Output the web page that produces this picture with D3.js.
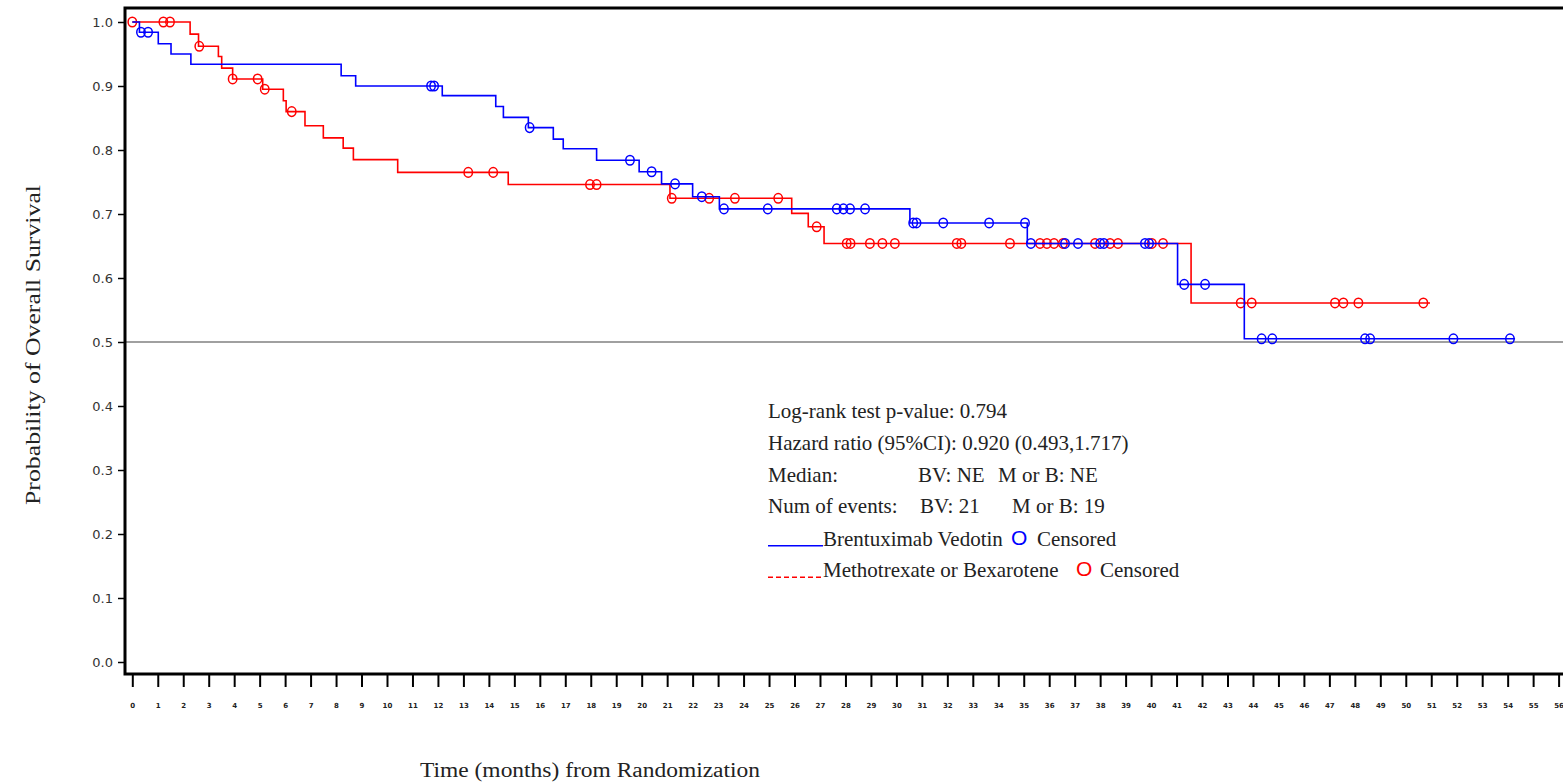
<!DOCTYPE html>
<html>
<head>
<meta charset="utf-8">
<script src="https://cdn.jsdelivr.net/npm/d3@7"></script>
<style>
  html, body { margin: 0; padding: 0; background: #fff; }
  svg { display: block; }
</style>
</head>
<body>
<svg id="chart" width="1563" height="783"></svg>
<script>
// Kaplan-Meier overall survival: Brentuximab Vedotin vs Methotrexate or Bexarotene

// Brentuximab Vedotin (BV): event times (months) and survival after each event
const bvEventTimes = [0.28, 1.02, 1.52, 2.3, 8.2, 8.77, 12.17, 14.27, 14.57, 15.55, 16.53, 16.92, 18.23, 19.9, 20.78, 22.0, 23.05, 30.53, 35.14, 41.04, 43.66];
const bvSurvival   = [0.984, 0.966, 0.950, 0.934, 0.916, 0.900, 0.885, 0.868, 0.851, 0.835, 0.817, 0.802, 0.784, 0.766, 0.747, 0.727, 0.708, 0.686, 0.654, 0.590, 0.505];
const bvLastFollowUp = 54.29;
const bvCensored = [0.34, 0.62, 11.73, 11.85, 15.6, 19.54, 20.39, 21.31, 22.36, 23.23, 24.95, 27.66, 27.92, 28.18, 28.77, 30.66, 30.79, 31.84, 33.64, 35.05, 35.28, 36.62, 37.13, 38.0, 38.15, 39.76, 39.92, 41.3, 42.12, 44.34, 44.76, 48.4, 48.6, 51.87, 54.09];

// Methotrexate or Bexarotene (M or B)
const mbEventTimes = [2.27, 2.6, 3.38, 3.51, 3.94, 5.12, 5.93, 6.04, 6.78, 7.5, 8.28, 8.68, 10.42, 14.76, 21.11, 25.89, 26.54, 27.16, 41.57];
const mbSurvival   = [0.981, 0.962, 0.946, 0.928, 0.911, 0.895, 0.877, 0.860, 0.838, 0.819, 0.803, 0.785, 0.765, 0.746, 0.7245, 0.701, 0.680, 0.654, 0.561];
const mbLastFollowUp = 50.95;
const mbCensored = [0, 1.22, 1.48, 2.63, 3.94, 4.92, 5.2, 6.26, 13.19, 14.17, 17.97, 18.23, 21.18, 22.65, 23.66, 25.36, 26.87, 28.05, 28.2, 28.96, 29.45, 29.94, 32.37, 32.55, 34.46, 35.64, 35.91, 36.19, 36.54, 37.8, 38.39, 38.7, 40.03, 40.47, 43.52, 43.95, 47.22, 47.55, 48.14, 50.69];

// Axis ticks
const xTickValues = d3.range(0, 57);
const yTickValues = [0, 0.1, 0.2, 0.3, 0.4, 0.5, 0.6, 0.7, 0.8, 0.9, 1.0];
const referenceSurvival = 0.5;

// Annotation text
const statLines = [
  ["Log-rank test p-value: 0.794"],
  ["Hazard ratio (95%CI): 0.920 (0.493,1.717)"],
  ["Median:", "BV: NE", "M or B: NE"],
  ["Num of events:", "BV: 21", "M or B: 19"]
];
const groupNames = ["Brentuximab Vedotin", "Methotrexate or Bexarotene"];
const groupColors = ["#0000ff", "#ff0000"];

const svg = d3.select("#chart");
const serif = "'Liberation Serif', 'Times New Roman', serif";

const x = d3.scaleLinear().domain([0, 56]).range([132.3, 1558.6]);
const y = d3.scaleLinear().domain([0, 1]).range([662, 22]);

const frame = { left: 125, top: 8, right: 1566, bottom: 674 };

// Reference line at median survival
svg.append("line")
  .attr("x1", frame.left).attr("x2", frame.right)
  .attr("y1", y(referenceSurvival)).attr("y2", y(referenceSurvival))
  .attr("stroke", "#a0a0a0").attr("stroke-width", 2);

// Step-function helpers
function stepPoints(times, surv, last) {
  const pts = [[0, 1]];
  times.forEach((t, i) => pts.push([t, surv[i]]));
  pts.push([last, surv[surv.length - 1]]);
  return pts;
}
function survivalAt(times, surv, t) {
  let s = 1;
  times.forEach((ti, i) => { if (ti <= t) s = surv[i]; });
  return s;
}

const stepLine = d3.line()
  .x(d => x(d[0]))
  .y(d => y(d[1]))
  .curve(d3.curveStepAfter);

const groups = [
  { times: bvEventTimes, surv: bvSurvival, last: bvLastFollowUp, cens: bvCensored, color: groupColors[0] },
  { times: mbEventTimes, surv: mbSurvival, last: mbLastFollowUp, cens: mbCensored, color: groupColors[1] }
];

// Draw M or B first so BV sits on top where they overlap
[groups[1], groups[0]].forEach(g => {
  svg.append("path")
    .datum(stepPoints(g.times, g.surv, g.last))
    .attr("d", stepLine)
    .attr("fill", "none")
    .attr("stroke", g.color)
    .attr("stroke-width", 1.6);

  svg.append("g")
    .selectAll("ellipse")
    .data(g.cens)
    .join("ellipse")
    .attr("cx", d => x(d))
    .attr("cy", d => y(survivalAt(g.times, g.surv, d)))
    .attr("rx", 4.2)
    .attr("ry", 4.8)
    .attr("fill", "none")
    .attr("stroke", g.color)
    .attr("stroke-width", 1.5);
});

// Frame
svg.append("rect")
  .attr("x", frame.left).attr("y", frame.top)
  .attr("width", frame.right - frame.left)
  .attr("height", frame.bottom - frame.top)
  .attr("fill", "none")
  .attr("stroke", "#000")
  .attr("stroke-width", 3);

// Y axis
const yAxis = svg.append("g")
  .attr("transform", `translate(${frame.left},0)`)
  .call(d3.axisLeft(y).tickValues(yTickValues).tickFormat(d3.format(".1f")).tickSize(7).tickPadding(5));
yAxis.select(".domain").remove();
yAxis.selectAll(".tick line").attr("stroke", "#000").attr("stroke-width", 1.5);
yAxis.selectAll(".tick text")
  .attr("font-family", "'DejaVu Sans', Verdana, sans-serif")
  .attr("font-size", 13)
  .attr("fill", "#333");

// X axis
const xAxis = svg.append("g")
  .attr("transform", `translate(0,${frame.bottom})`)
  .call(d3.axisBottom(x).tickValues(xTickValues).tickFormat(d3.format("d")).tickSize(13).tickPadding(16));
xAxis.select(".domain").remove();
xAxis.selectAll(".tick line").attr("stroke", "#000").attr("stroke-width", 2);
xAxis.selectAll(".tick text")
  .attr("font-family", "'DejaVu Sans', Verdana, sans-serif")
  .attr("font-size", 7)
  .attr("font-weight", "bold")
  .attr("fill", "#222");

// Axis titles
svg.append("text")
  .attr("transform", "translate(40,345) rotate(-90)")
  .attr("text-anchor", "middle")
  .attr("font-family", serif)
  .attr("font-size", 21)
  .attr("fill", "#222")
  .attr("textLength", 320)
  .attr("lengthAdjust", "spacingAndGlyphs")
  .text("Probability of Overall Survival");

svg.append("text")
  .attr("x", 590).attr("y", 777)
  .attr("text-anchor", "middle")
  .attr("font-family", serif)
  .attr("font-size", 20)
  .attr("fill", "#222")
  .attr("textLength", 340)
  .attr("lengthAdjust", "spacingAndGlyphs")
  .text("Time (months) from Randomization");

// Statistics block
const statX = [768, 918, 998];
const statXEvents = [768, 920, 1012];
const baseY = 418, lineGap = 31.8;
statLines.forEach((parts, i) => {
  const cols = i === 3 ? statXEvents : statX;
  parts.forEach((p, j) => {
    svg.append("text")
      .attr("x", cols[j]).attr("y", baseY + i * lineGap)
      .attr("font-family", serif)
      .attr("font-size", 21)
      .attr("fill", "#222")
      .text(p);
  });
});

// Legend entries
const legendY = [545.7, 577.3];
const censoredX = [[1011, 1037], [1076, 1100]];
groupNames.forEach((name, i) => {
  svg.append("line")
    .attr("x1", 768).attr("x2", 823)
    .attr("y1", legendY[i]).attr("y2", legendY[i])
    .attr("stroke", groupColors[i])
    .attr("stroke-width", 1.4)
    .attr("stroke-dasharray", i === 1 ? "5,3" : null);
  svg.append("text")
    .attr("x", 823).attr("y", legendY[i])
    .attr("font-family", serif).attr("font-size", 21).attr("fill", "#222")
    .text(name);
  svg.append("text")
    .attr("x", censoredX[i][0]).attr("y", legendY[i] - 1)
    .attr("font-family", "'Liberation Sans', Arial, sans-serif")
    .attr("font-size", 21).attr("fill", groupColors[i])
    .text("O");
  svg.append("text")
    .attr("x", censoredX[i][1]).attr("y", legendY[i])
    .attr("font-family", serif).attr("font-size", 21).attr("fill", "#222")
    .text("Censored");
});
</script>
</body>
</html>
